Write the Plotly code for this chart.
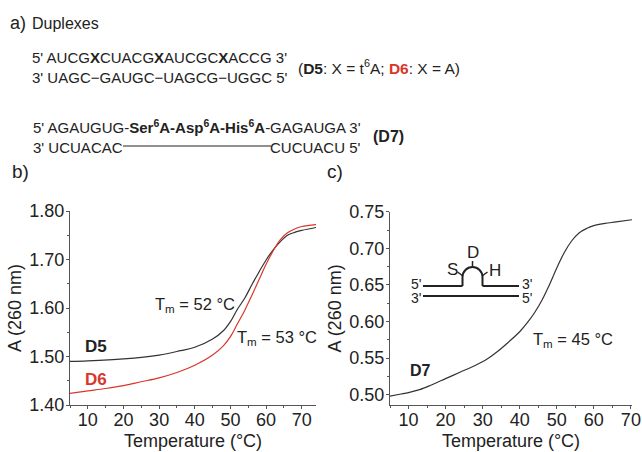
import plotly.graph_objects as go

# ---------------- data ----------------
temp_d5 = [5, 10, 20, 30, 36, 40, 45, 48, 50, 52, 54, 56, 58, 60, 62, 64, 66, 68, 70, 74]
abs_d5 = [1.490, 1.491, 1.495, 1.503, 1.512, 1.519, 1.536, 1.553, 1.572, 1.598, 1.620, 1.648,
          1.674, 1.699, 1.720, 1.737, 1.750, 1.756, 1.760, 1.766]

temp_d6 = [5, 10, 15, 20, 25, 30, 35, 40, 45, 48, 50, 52, 54, 56, 58, 60, 62, 64, 66, 68, 70, 74]
abs_d6 = [1.424, 1.429, 1.434, 1.440, 1.448, 1.456, 1.467, 1.482, 1.503, 1.522, 1.541, 1.568,
          1.595, 1.626, 1.658, 1.690, 1.718, 1.741, 1.755, 1.763, 1.768, 1.772]

temp_d7 = [4.8, 8, 10, 13, 16, 20, 24, 28, 31, 34, 37, 40, 42, 44, 46, 48, 50, 52, 54, 56, 58,
           60, 63, 66, 70.3]
abs_d7 = [0.498, 0.501, 0.503, 0.507, 0.513, 0.522, 0.531, 0.540, 0.548, 0.559, 0.572, 0.586,
          0.598, 0.612, 0.629, 0.650, 0.673, 0.694, 0.710, 0.721, 0.727, 0.731, 0.734, 0.736, 0.739]

ticks_b = [1.40, 1.50, 1.60, 1.70, 1.80]
ticks_c = [0.50, 0.55, 0.60, 0.65, 0.70, 0.75]
ticks_x = [10, 20, 30, 40, 50, 60, 70]

# ---------------- layout helpers ----------------
W, H = 642, 452
def px(x):
    return x / W
def py(y):
    return 1 - y / H

FONT = "Liberation Sans, Arial, sans-serif"
TXT = "#222222"
RED = "#d9362b"
BLK = "#333333"
AX = "#555555"

fig = go.Figure()
fig.add_trace(go.Scatter(x=temp_d5, y=abs_d5, mode="lines", line=dict(color=BLK, width=1.2),
                         xaxis="x", yaxis="y", showlegend=False, line_shape="spline"))
fig.add_trace(go.Scatter(x=temp_d6, y=abs_d6, mode="lines", line=dict(color=RED, width=1.2),
                         xaxis="x", yaxis="y", showlegend=False, line_shape="spline"))
fig.add_trace(go.Scatter(x=temp_d7, y=abs_d7, mode="lines", line=dict(color=BLK, width=1.2),
                         xaxis="x2", yaxis="y2", showlegend=False, line_shape="spline"))

axis_common = dict(showline=True, linecolor=AX, linewidth=1, showgrid=False,
                   zeroline=False, ticks="outside", ticklen=3, tickcolor=AX,
                   automargin=False,
                   tickfont=dict(family=FONT, size=18, color=TXT))
xt = dict(axis_common, tickvals=ticks_x, ticklabelstandoff=-5,
          minor=dict(dtick=5, tick0=0, ticks="outside", ticklen=2, tickcolor=AX),
          title=dict(text="Temperature (°C)", font=dict(family=FONT, size=18, color=TXT),
                     standoff=5))
yt = dict(axis_common, tickformat=".2f", ticklabelstandoff=-2,
          title=dict(text="A (260 nm)", font=dict(family=FONT, size=18, color=TXT), standoff=3))

fig.update_layout(
    width=W, height=H, autosize=False,
    margin=dict(l=0, r=0, t=0, b=0, pad=0),
    paper_bgcolor="white", plot_bgcolor="white",
    xaxis=dict(xt, domain=[px(70), px(316)], range=[5, 74], anchor="y"),
    yaxis=dict(yt, domain=[py(405), py(211)], range=[1.40, 1.80], anchor="x",
               tickvals=ticks_b,
               minor=dict(dtick=0.05, tick0=0, ticks="outside", ticklen=2, tickcolor=AX)),
    xaxis2=dict(xt, domain=[px(390), px(632)], range=[5, 70.3], anchor="y2"),
    yaxis2=dict(yt, domain=[py(405), py(211.7)], range=[0.486, 0.75], anchor="x2",
                tickvals=ticks_c,
                minor=dict(dtick=0.025, tick0=0, ticks="outside", ticklen=2, tickcolor=AX)),
)

def ann(text, x, y, size=16, xanchor="left", color=TXT):
    fig.add_annotation(text=text, x=px(x), y=py(y), xref="paper", yref="paper",
                       xanchor=xanchor, yanchor="middle", showarrow=False, borderpad=0,
                       font=dict(family=FONT, size=size, color=color))

# ---------------- panel a text ----------------
SEQ = 15
ann("a)", 9, 23, size=18)
ann("Duplexes", 31, 23, size=16)
ann("5' AUCG<b>X</b>CUACG<b>X</b>AUCGC<b>X</b>ACCG 3'", 31, 57, size=SEQ)
ann("3' UAGC−GAUGC−UAGCG−UGGC 5'", 31, 77, size=SEQ)
ann("(<b>D5</b>: X = t<sup>6</sup>A; <span style='color:%s'><b>D6</b></span>: X = A)" % RED,
    297, 67, size=15.5)
ann("5' AGAUGUG-<b>Ser<sup>6</sup>A-Asp<sup>6</sup>A-His<sup>6</sup>A</b>-GAGAUGA 3'", 32, 127,
    size=SEQ)
ann("3' UCUACAC", 32, 147, size=SEQ)
ann("CUCUACU 5'", 362, 147, size=SEQ, xanchor="right")
ann("<b>(D7)</b>", 372, 136, size=16)
fig.add_shape(type="line", xref="paper", yref="paper", x0=px(123), x1=px(271), y0=py(146),
              y1=py(146), line=dict(color=TXT, width=1))

# ---------------- panel labels & curve annotations ----------------
ann("b)", 11, 172, size=19)
ann("c)", 326, 172, size=19)
ann("<b>D5</b>", 84, 346, size=17)
ann("<b>D6</b>", 84, 379, size=17, color=RED)
ann("T<sub>m</sub> = 52 °C", 154, 305, size=16.5)
ann("T<sub>m</sub> = 53 °C", 236, 338, size=16.5)
ann("<b>D7</b>", 409, 370, size=16)
ann("T<sub>m</sub> = 45 °C", 532, 340, size=16.5)

# ---------------- inset schematic (panel c) ----------------
LW = 2
def seg(x0, y0, x1, y1, w=LW):
    fig.add_shape(type="line", xref="paper", yref="paper", x0=px(x0), y0=py(y0),
                  x1=px(x1), y1=py(y1), line=dict(color=TXT, width=w))

seg(423, 286, 462.5, 286)
seg(482.5, 286, 519, 286)
seg(423, 296, 519, 296)
cx, cy, r = 472.5, 277, 10
k = 0.5523
pts = [(cx - r, 286), (cx - r, cy),
       (cx - r, cy - k * r), (cx - k * r, cy - r), (cx, cy - r),
       (cx + k * r, cy - r), (cx + r, cy - k * r), (cx + r, cy),
       (cx + r, 286)]
P = [(px(a), py(b)) for a, b in pts]
path = ("M %f %f L %f %f C %f %f %f %f %f %f C %f %f %f %f %f %f L %f %f" %
        tuple(v for p in P for v in p))
fig.add_shape(type="path", xref="paper", yref="paper", path=path,
              line=dict(color=TXT, width=LW))
seg(cx, cy - r, cx, cy - r - 6, w=1.5)
seg(cx - r + 0.5, cy - 1, cx - r - 5, cy - 5, w=1.5)
seg(cx + r - 0.5, cy - 1, cx + r + 5, cy - 5, w=1.5)
ann("S", 446, 269, size=17)
ann("D", 472.5, 252, size=17, xanchor="center")
ann("H", 488, 270, size=17)
ann("5'", 410, 284, size=14)
ann("3'", 410, 297.5, size=14)
ann("3'", 521, 284, size=14)
ann("5'", 521, 297.5, size=14)

fig.write_html("out.html", config={"displayModeBar": False},
               post_script="document.body.style.margin='0';document.body.style.overflow='hidden';")
